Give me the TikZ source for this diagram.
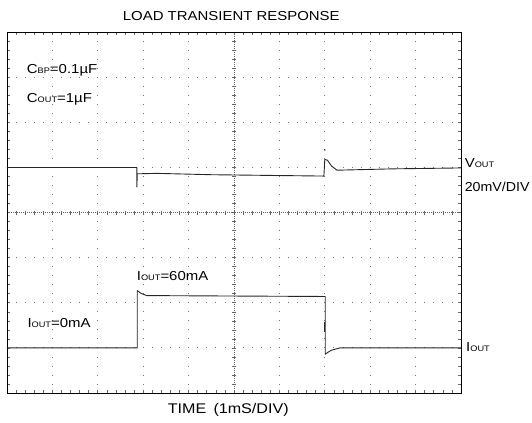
\documentclass[tikz,border=0pt]{standalone}
\usepackage{fontspec}
\setmainfont{Liberation Sans}
\usetikzlibrary{positioning}
\newcommand{\subtxt}[1]{{\fontsize{8}{8}\selectfont #1}}

\begin{document}
\begin{tikzpicture}[x=45.4pt, y=45.1pt,
    lbl/.style={inner sep=0pt, xscale=1.15, font=\fontsize{13}{15}\selectfont},
    hdots/.style={black!55, line width=0.8pt, dash pattern=on 0.8pt off 8.28pt, dash phase=0.4pt},
    vdots/.style={black!55, line width=0.8pt, dash pattern=on 0.8pt off 8.22pt, dash phase=0.4pt},
    axisline/.style={black!60, line width=0.6pt, dash pattern=on 1pt off 1pt},
    tickmark/.style={black!60, line width=0.6pt},
    frame/.style={black, line width=0.9pt},
    trace/.style={black!85, line width=0.9pt, line join=round}]
    \useasboundingbox (-0.154,-0.665) rectangle (11.564,8.714);

    % graticule
    \foreach \r in {1,2,3,5,6,7}
      \draw[hdots] (0,\r) -- (10,\r);
    \foreach \c in {1,2,3,4,6,7,8,9}
      \draw[vdots] (\c,0) -- (\c,8);
    \draw[axisline] (0,4) -- (10,4);
    \draw[axisline] (5,0) -- (5,8);
    \foreach \i in {1,...,49} {
      \draw[tickmark] (\i/5,4) ++(0,-2pt) -- ++(0,4pt);
      \draw[tickmark] (\i/5,0) -- ++(0,3pt);
      \draw[tickmark] (\i/5,8) -- ++(0,-3pt);
    }
    \foreach \i in {1,...,39} {
      \draw[tickmark] (5,\i/5) ++(-2pt,0) -- ++(4pt,0);
      \draw[tickmark] (0,\i/5) -- ++(3pt,0);
      \draw[tickmark] (10,\i/5) -- ++(-3pt,0);
    }
    \draw[frame] (0,0) rectangle (10,8);

    % traces
    \draw[trace] (0,5.0) -- (1.5,5.0) -- (2.86,5.0) -- (2.86,4.57) -- (2.87,4.86)
      -- (3.3,4.87) -- (4.5,4.84) -- (6.98,4.81) -- (7.0,5.18) -- (7.06,5.16)
      -- (7.15,5.03) -- (7.27,4.94) -- (8.5,4.97) -- (10,4.99);
    \fill[black!85] (7.0,5.39) circle (0.8pt);
    \draw[trace] (0,1.0) -- (2.87,1.0) -- (2.87,2.27) -- (2.95,2.21) -- (3.08,2.16)
      -- (5.0,2.15) -- (7.01,2.14) -- (7.01,0.86) -- (7.08,0.91) -- (7.15,0.95)
      -- (7.33,1.0) -- (10,1.0);
    \draw[trace, line width=1.3pt] (6.99,1.58) -- (6.99,1.36);

    % labels
    \node[lbl, anchor=base] (title) at (4.94,8.255) {LOAD TRANSIENT RESPONSE};
    \node[lbl, anchor=base west] (cbp) at (0.434,7.089) {C\subtxt{BP}=0.1µF};
    \node[lbl, anchor=base west] (cout) at (0.434,6.437) {C\subtxt{OUT}=1µF};
    \node[lbl, anchor=base west] (vout) at (10.08,4.995) {V\subtxt{OUT}};
    \node[lbl, anchor=base west, xscale=0.95] (vdiv) at (10.08,4.463) {20mV/DIV};
    \node[lbl, anchor=base west] (iout) at (10.11,0.916) {I\subtxt{OUT}};
    \node[lbl, anchor=base west] (ihigh) at (2.857,2.49) {I\subtxt{OUT}=60mA};
    \node[lbl, anchor=base west] (ilow) at (0.447,1.457) {I\subtxt{OUT}=0mA};
    \node[lbl, anchor=base, font=\fontsize{14}{16}\selectfont] (time) at (4.874,-0.45) {TIME\,\ (1mS/DIV)};
  \end{tikzpicture}
\end{document}
